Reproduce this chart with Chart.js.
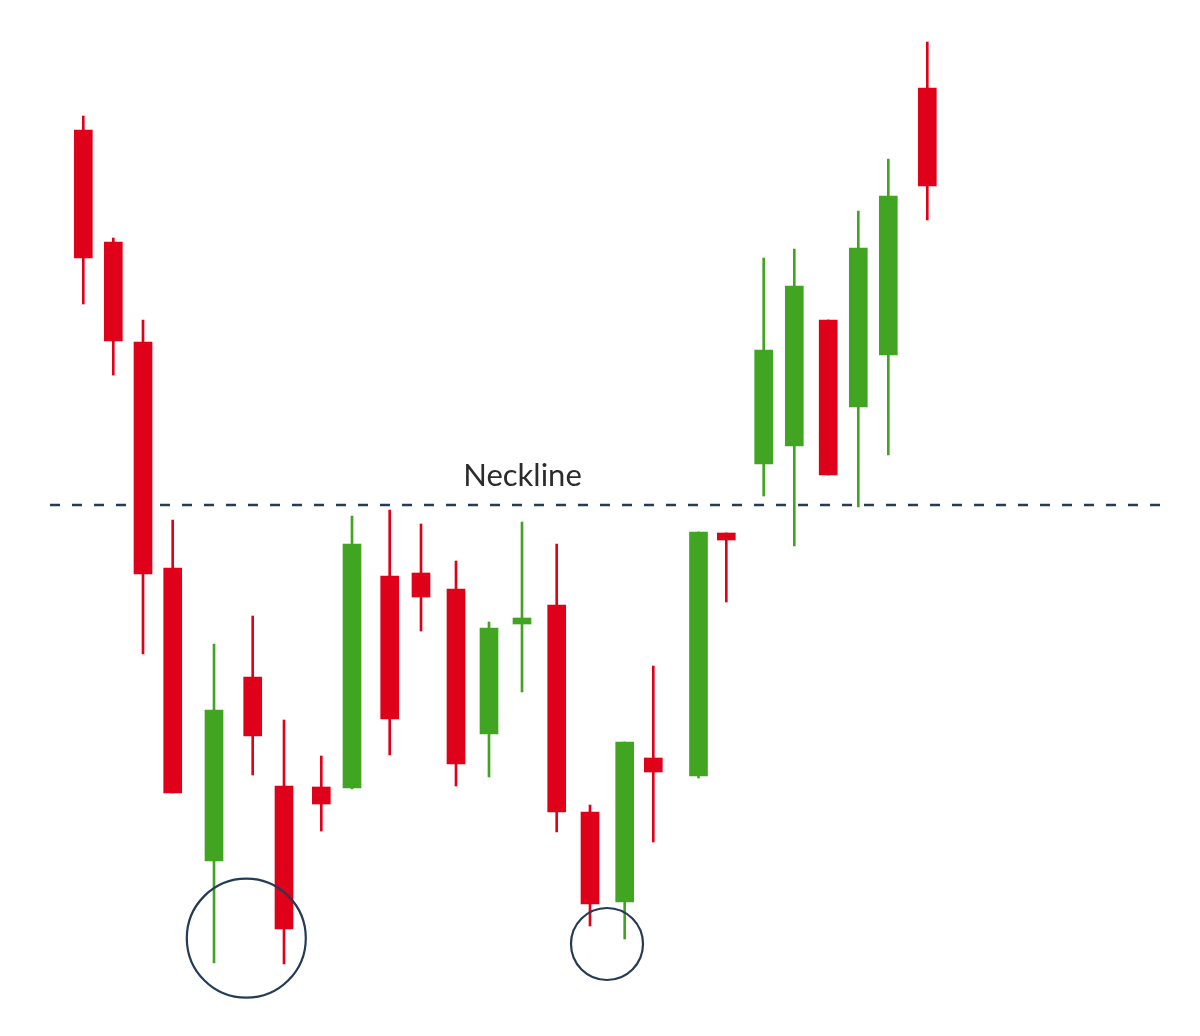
<!DOCTYPE html>
<html>
<head>
<meta charset="utf-8">
<script src="https://cdn.jsdelivr.net/npm/chart.js@4.4.1/dist/chart.umd.min.js"></script>
<style>
  html, body { margin: 0; padding: 0; background: #fff; }
  #wrap { width: 1200px; height: 1036px; }
</style>
</head>
<body>
<div id="wrap"><canvas id="candleChart" width="1200" height="1036"></canvas></div>
<script>
// session time of each candle
const times  = [8.33, 11.33, 14.30, 17.27, 21.40, 25.27, 28.40, 32.13, 35.20, 38.97, 42.10, 45.60, 48.90,
                52.20, 55.67, 59.00, 62.47, 65.33, 69.85, 72.63, 76.37, 79.43, 82.82, 85.83, 88.83, 92.73];
const opens  = [90.6, 79.4, 69.4, 46.8, 17.5, 35.9, 25.0, 24.9, 24.8, 46.0, 46.3, 44.7, 30.2,
                41.2, 43.1, 22.4, 13.4, 27.8, 26.0, 50.3, 57.2, 59.0, 71.6, 62.9, 68.1, 94.8];
const highs  = [92.0, 79.8, 71.6, 51.6, 39.2, 42.0, 31.6, 28.0, 52.0, 52.6, 51.2, 47.5, 41.4,
                51.4, 49.2, 23.1, 29.4, 37.0, 50.4, 50.3, 77.8, 78.7, 71.6, 82.5, 87.7, 99.4];
const lows   = [73.2, 66.1, 38.2, 24.3,  7.3, 26.1,  7.2, 20.5, 24.7, 28.1, 40.5, 25.0, 25.9,
                34.4, 20.4, 11.0,  9.7, 19.4, 25.8, 43.4, 54.0, 49.0, 56.1, 52.9, 58.1, 81.6];
const closes = [77.8, 69.5, 46.2, 24.3, 32.6, 30.0, 10.7, 23.2, 49.2, 31.7, 43.9, 27.2, 40.8,
                41.8, 22.4, 13.2, 29.4, 26.4, 50.4, 49.6, 68.6, 75.0, 56.1, 78.8, 84.0, 85.0];

const necklineLevel = 53.1;
const necklineSpan = [5.0, 116.0];
const necklineLabel = "Neckline";
const labelAt = 52.25;
// the two troughs of the pattern (time, price)
const troughs = [[24.63, 9.78], [60.70, 9.20]];

const UP = "#42a521";
const DOWN = "#df001a";
const colors = opens.map((o, i) => closes[i] >= o ? UP : DOWN);

const wickData = times.map((t, i) => ({ x: t, y: [lows[i], highs[i]] }));
const bodyData = times.map((t, i) => ({ x: t, y: [opens[i], closes[i]] }));

const patternMarks = {
    id: "patternMarks",
    afterDatasetsDraw(chart) {
        const { ctx, scales: { x, y } } = chart;
        ctx.save();
        // label
        ctx.font = "31px Lato";
        ctx.fillStyle = "#2b2b2b";
        ctx.textAlign = "center";
        ctx.textBaseline = "alphabetic";
        ctx.fillText(necklineLabel, x.getPixelForValue(labelAt), y.getPixelForValue(necklineLevel) - 19);
        // circles on the troughs
        ctx.strokeStyle = "#233b55";
        ctx.lineWidth = 2.2;
        const radii = [59.5, 36];
        troughs.forEach((p, i) => {
            ctx.beginPath();
            ctx.arc(x.getPixelForValue(p[0]), y.getPixelForValue(p[1]), radii[i], 0, Math.PI * 2);
            ctx.stroke();
        });
        ctx.restore();
    }
};

new Chart(document.getElementById("candleChart"), {
    type: "bar",
    data: {
        datasets: [
            {
                label: "Wick",
                data: wickData,
                backgroundColor: colors,
                barThickness: 2,
                grouped: false,
                order: 1
            },
            {
                label: "Body",
                data: bodyData,
                backgroundColor: colors,
                barThickness: 18,
                grouped: false,
                order: 0
            },
            {
                type: "line",
                label: necklineLabel,
                data: necklineSpan.map(t => ({ x: t, y: necklineLevel })),
                borderColor: "#243c56",
                borderWidth: 2.6,
                borderDash: [10, 12],
                pointRadius: 0,
                order: 3
            }
        ]
    },
    options: {
        responsive: false,
        animation: false,
        layout: { padding: 0 },
        plugins: {
            legend: { display: false },
            tooltip: { enabled: false }
        },
        scales: {
            x: { type: "linear", min: 0, max: 120, offset: false, display: false },
            y: { min: 0, max: 103.6, display: false }
        }
    },
    plugins: [patternMarks]
});
</script>
</body>
</html>
